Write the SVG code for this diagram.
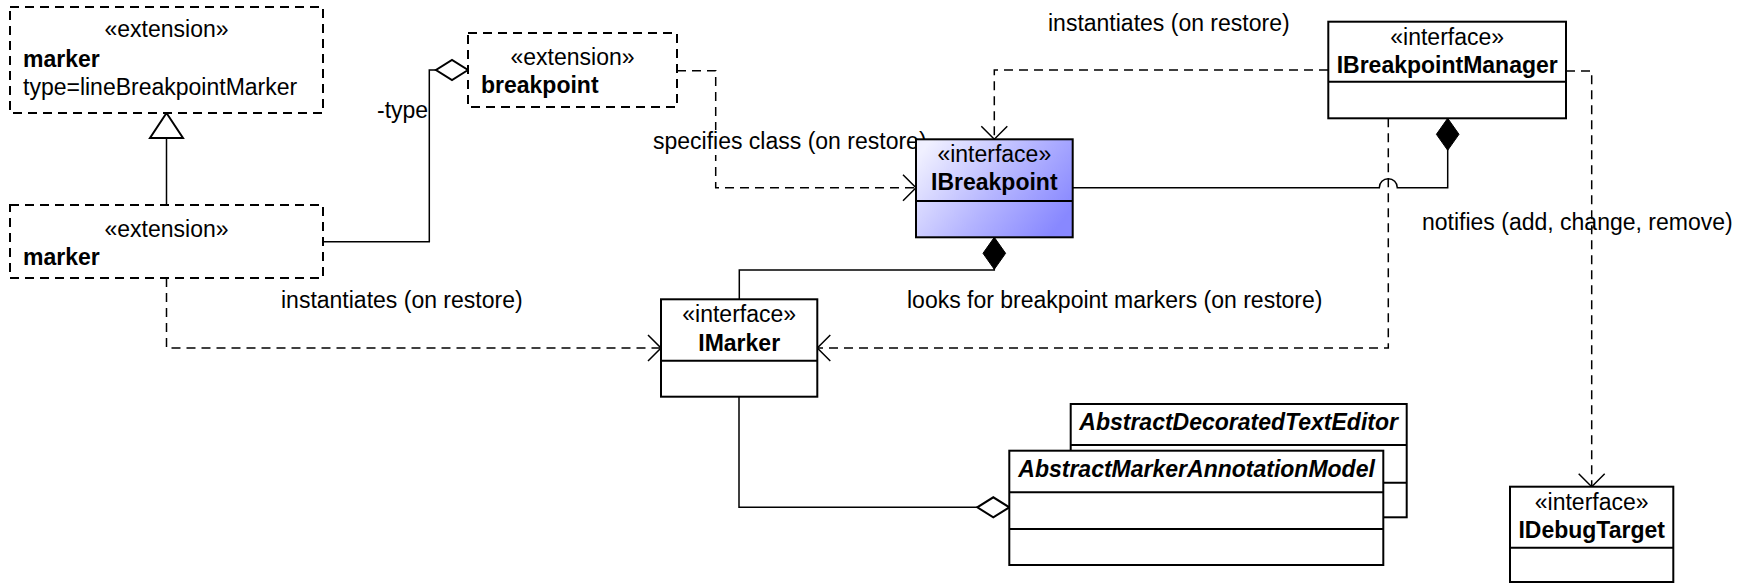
<svg xmlns="http://www.w3.org/2000/svg" width="1750" height="584" viewBox="0 0 1750 584">
  <style>
    text { font-family: "Liberation Sans", Arial, sans-serif; font-size: 23px; fill: #000; }
    .b { font-weight: bold; }
    .bi { font-weight: bold; font-style: italic; }
    .mid { text-anchor: middle; }
    .box { fill: #fff; stroke: #000; stroke-width: 2; }
    .ext { fill: #fff; stroke: #000; stroke-width: 2; stroke-dasharray: 9 6; }
    .sep { stroke: #000; stroke-width: 2; fill: none; }
    .line { fill: none; stroke: #000; stroke-width: 1.5; }
    .dep { fill: none; stroke: #000; stroke-width: 1.5; stroke-dasharray: 9 6; }
    .lbl-bg { fill: #fff; }
  </style>
  <defs>
    <linearGradient id="iface-fill" x1="0" y1="0.2" x2="1" y2="0.7">
      <stop offset="0" stop-color="#f0f0ff"/>
      <stop offset="0.55" stop-color="#b4b4ff"/>
      <stop offset="1" stop-color="#8888ff"/>
    </linearGradient>
    <marker id="open-arrow" markerUnits="userSpaceOnUse" viewBox="-16 -16 32 32" markerWidth="32" markerHeight="32" refX="0" refY="0" orient="auto" overflow="visible">
      <path d="M-13,-13 L0,0 L-13,13" fill="none" stroke="#000" stroke-width="1.5" stroke-dasharray="none"/>
    </marker>
    <marker id="gen-triangle" markerUnits="userSpaceOnUse" viewBox="-30 -20 34 40" markerWidth="34" markerHeight="40" refX="0" refY="0" orient="auto" overflow="visible">
      <path d="M0,0 L-25,-16.5 L-25,16.5 Z" fill="#fff" stroke="#000" stroke-width="2"/>
    </marker>
    <marker id="hollow-diamond" markerUnits="userSpaceOnUse" viewBox="-2 -12 36 24" markerWidth="36" markerHeight="24" refX="0" refY="0" orient="auto" overflow="visible">
      <path d="M0,0 L16,-10 L32,0 L16,10 Z" fill="#fff" stroke="#000" stroke-width="2"/>
    </marker>
    <marker id="filled-diamond" markerUnits="userSpaceOnUse" viewBox="-2 -13 36 26" markerWidth="36" markerHeight="26" refX="0" refY="0" orient="auto" overflow="visible">
      <path d="M0,0 L16,-11.3 L32,0 L16,11.3 Z" fill="#000" stroke="#000" stroke-width="1"/>
    </marker>
  </defs>

  <rect width="1750" height="584" fill="#fff"/>

  <!-- connectors -->
  <g id="connectors">
    <!-- marker extension specialises the base marker extension -->
    <path class="line" d="M166.5,206 V113" marker-end="url(#gen-triangle)"/>
    <!-- breakpoint extension -type aggregation -->
    <path class="line" d="M468,70 H429.3 V241.7 H323" marker-start="url(#hollow-diamond)"/>
    <!-- breakpoint extension specifies class -->
    <path class="dep" d="M677,70.7 H715.7 V187.7 H916" marker-end="url(#open-arrow)"/>
    <!-- manager instantiates breakpoints -->
    <path class="dep" d="M1328,70 H994.3 V139.3" marker-end="url(#open-arrow)"/>
    <!-- manager notifies debug targets -->
    <path class="dep" d="M1566,71 H1591.7 V486.7" marker-end="url(#open-arrow)"/>
    <!-- manager looks for breakpoint markers -->
    <path class="dep" d="M1388.3,118.3 V348 H817.3" marker-end="url(#open-arrow)"/>
    <!-- marker extension instantiates markers -->
    <path class="dep" d="M166.5,278 V348 H661" marker-end="url(#open-arrow)"/>
    <!-- manager owns breakpoints (with line hop) -->
    <path class="line" d="M1447.7,118.3 V187.7 H1397.3 A9,9 0 0 0 1379.3,187.7 H1072.7" marker-start="url(#filled-diamond)"/>
    <!-- breakpoint owns its marker -->
    <path class="line" d="M994.3,237.3 V270 H739.3 V299.3" marker-start="url(#filled-diamond)"/>
    <!-- annotation model aggregates markers -->
    <path class="line" d="M1009.3,507.3 H739 V396.7" marker-start="url(#hollow-diamond)"/>
  </g>

  <!-- connector labels -->
  <g id="labels">
    <text x="377" y="118">-type</text>
    <rect class="lbl-bg" x="651" y="130" width="277" height="25"/>
    <text x="653" y="149">specifies class (on restore)</text>
    <text x="1048" y="31">instantiates (on restore)</text>
    <text x="281" y="308">instantiates (on restore)</text>
    <text x="907" y="308">looks for breakpoint markers (on restore)</text>
    <text x="1422" y="230">notifies (add, change, remove)</text>
  </g>

  <g id="marker-ext-base">
    <rect class="ext" x="10" y="7" width="313" height="106"/>
    <text class="mid" x="166.5" y="37">«extension»</text>
    <text class="b" x="23" y="67">marker</text>
    <text x="23" y="95">type=lineBreakpointMarker</text>
  </g>

  <g id="marker-ext">
    <rect class="ext" x="10" y="205" width="313" height="73"/>
    <text class="mid" x="166.5" y="237">«extension»</text>
    <text class="b" x="23" y="265">marker</text>
  </g>

  <g id="breakpoint-ext">
    <rect class="ext" x="468" y="33" width="209" height="74"/>
    <text class="mid" x="572.5" y="65">«extension»</text>
    <text class="b" x="481" y="93">breakpoint</text>
  </g>

  <g id="IBreakpoint">
    <rect x="916" y="139.3" width="156.7" height="98" fill="url(#iface-fill)" stroke="#000" stroke-width="2"/>
    <line class="sep" x1="916" y1="201" x2="1072.7" y2="201"/>
    <text class="mid" x="994.3" y="162">«interface»</text>
    <text class="mid b" x="994.3" y="190">IBreakpoint</text>
  </g>

  <g id="IBreakpointManager">
    <rect class="box" x="1328.3" y="21.7" width="237.7" height="96.6"/>
    <line class="sep" x1="1328.3" y1="81.7" x2="1566" y2="81.7"/>
    <text class="mid" x="1447.2" y="45">«interface»</text>
    <text class="mid b" x="1447.2" y="72.5">IBreakpointManager</text>
  </g>

  <g id="IMarker">
    <rect class="box" x="661" y="299.3" width="156.3" height="97.4"/>
    <line class="sep" x1="661" y1="360.7" x2="817.3" y2="360.7"/>
    <text class="mid" x="739.2" y="322">«interface»</text>
    <text class="mid b" x="739.2" y="350.5">IMarker</text>
  </g>

  <g id="AbstractDecoratedTextEditor">
    <rect class="box" x="1070.7" y="404" width="336" height="113.3"/>
    <line class="sep" x1="1070.7" y1="445" x2="1406.7" y2="445"/>
    <line class="sep" x1="1070.7" y1="482.7" x2="1406.7" y2="482.7"/>
    <text class="bi" x="1079.3" y="430">AbstractDecoratedTextEditor</text>
  </g>

  <g id="AbstractMarkerAnnotationModel">
    <rect class="box" x="1009.3" y="450.7" width="374" height="114.3"/>
    <line class="sep" x1="1009.3" y1="492.3" x2="1383.3" y2="492.3"/>
    <line class="sep" x1="1009.3" y1="529" x2="1383.3" y2="529"/>
    <text class="bi" x="1018.3" y="477.3">AbstractMarkerAnnotationModel</text>
  </g>

  <g id="IDebugTarget">
    <rect class="box" x="1510" y="486.7" width="163.3" height="95.3"/>
    <line class="sep" x1="1510" y1="547.7" x2="1673.3" y2="547.7"/>
    <text class="mid" x="1591.7" y="510">«interface»</text>
    <text class="mid b" x="1591.7" y="538.3">IDebugTarget</text>
  </g>
</svg>
